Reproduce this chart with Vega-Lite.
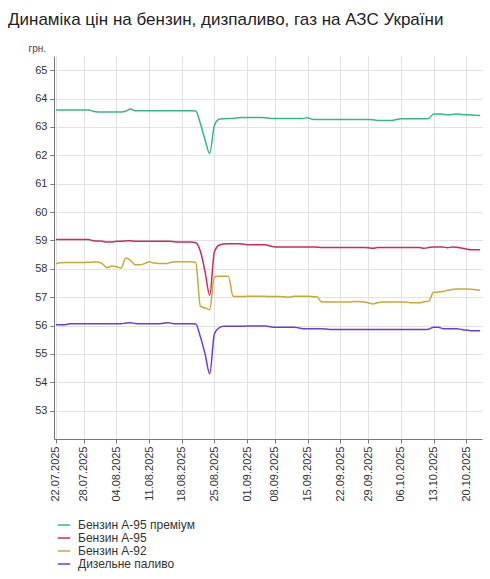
{
  "$schema": "https://vega.github.io/schema/vega-lite/v6.json",
  "width": 428,
  "height": 383,
  "autosize": "none",
  "padding": {"left": 54, "top": 56, "right": 8, "bottom": 140},
  "config": {
    "font": "Liberation Sans",
    "view": {"stroke": null}
  },
  "title": {
    "text": "Динаміка цін на бензин, дизпаливо, газ на АЗС України",
    "anchor": "start",
    "frame": "group",
    "dx": -46,
    "offset": 14,
    "fontSize": 17,
    "fontWeight": "normal",
    "color": "#222"
  },
  "data": {
    "values": [
      {"d": "22.07.2025", "p": 63.6, "a95": 59.03, "a92": 58.18, "dz": 56.03},
      {"d": "23.07.2025", "p": 63.6, "a95": 59.03, "a92": 58.21, "dz": 56.03},
      {"d": "24.07.2025", "p": 63.6, "a95": 59.03, "a92": 58.22, "dz": 56.03},
      {"d": "25.07.2025", "p": 63.6, "a95": 59.03, "a92": 58.22, "dz": 56.06},
      {"d": "26.07.2025", "p": 63.6, "a95": 59.03, "a92": 58.22, "dz": 56.06},
      {"d": "27.07.2025", "p": 63.6, "a95": 59.03, "a92": 58.22, "dz": 56.06},
      {"d": "28.07.2025", "p": 63.6, "a95": 59.03, "a92": 58.22, "dz": 56.06},
      {"d": "29.07.2025", "p": 63.6, "a95": 59.03, "a92": 58.23, "dz": 56.06},
      {"d": "30.07.2025", "p": 63.55, "a95": 58.99, "a92": 58.24, "dz": 56.06},
      {"d": "31.07.2025", "p": 63.53, "a95": 58.98, "a92": 58.24, "dz": 56.06},
      {"d": "01.08.2025", "p": 63.53, "a95": 58.97, "a92": 58.17, "dz": 56.06},
      {"d": "02.08.2025", "p": 63.53, "a95": 58.94, "a92": 58.04, "dz": 56.06},
      {"d": "03.08.2025", "p": 63.53, "a95": 58.94, "a92": 58.1, "dz": 56.06},
      {"d": "04.08.2025", "p": 63.53, "a95": 58.97, "a92": 58.07, "dz": 56.06},
      {"d": "05.08.2025", "p": 63.53, "a95": 58.97, "a92": 58.03, "dz": 56.06},
      {"d": "06.08.2025", "p": 63.55, "a95": 58.98, "a92": 58.38, "dz": 56.09},
      {"d": "07.08.2025", "p": 63.63, "a95": 58.99, "a92": 58.3, "dz": 56.1},
      {"d": "08.08.2025", "p": 63.57, "a95": 58.97, "a92": 58.14, "dz": 56.07},
      {"d": "09.08.2025", "p": 63.57, "a95": 58.97, "a92": 58.14, "dz": 56.06},
      {"d": "10.08.2025", "p": 63.57, "a95": 58.97, "a92": 58.18, "dz": 56.06},
      {"d": "11.08.2025", "p": 63.57, "a95": 58.97, "a92": 58.25, "dz": 56.06},
      {"d": "12.08.2025", "p": 63.57, "a95": 58.97, "a92": 58.2, "dz": 56.06},
      {"d": "13.08.2025", "p": 63.57, "a95": 58.97, "a92": 58.19, "dz": 56.06},
      {"d": "14.08.2025", "p": 63.57, "a95": 58.97, "a92": 58.19, "dz": 56.08},
      {"d": "15.08.2025", "p": 63.57, "a95": 58.97, "a92": 58.19, "dz": 56.1},
      {"d": "16.08.2025", "p": 63.57, "a95": 58.96, "a92": 58.24, "dz": 56.07},
      {"d": "17.08.2025", "p": 63.57, "a95": 58.94, "a92": 58.25, "dz": 56.06},
      {"d": "18.08.2025", "p": 63.57, "a95": 58.94, "a92": 58.25, "dz": 56.06},
      {"d": "19.08.2025", "p": 63.57, "a95": 58.94, "a92": 58.25, "dz": 56.06},
      {"d": "20.08.2025", "p": 63.57, "a95": 58.94, "a92": 58.25, "dz": 56.06},
      {"d": "21.08.2025", "p": 63.56, "a95": 58.92, "a92": 58.22, "dz": 56.05},
      {"d": "22.08.2025", "p": 63.12, "a95": 58.62, "a92": 56.68, "dz": 55.6},
      {"d": "23.08.2025", "p": 62.55, "a95": 57.9, "a92": 56.62, "dz": 55.0},
      {"d": "24.08.2025", "p": 62.06, "a95": 57.07, "a92": 56.56, "dz": 54.3},
      {"d": "25.08.2025", "p": 63.05, "a95": 58.6, "a92": 57.72, "dz": 55.7},
      {"d": "26.08.2025", "p": 63.27, "a95": 58.83, "a92": 57.74, "dz": 55.92},
      {"d": "27.08.2025", "p": 63.29, "a95": 58.87, "a92": 57.74, "dz": 55.97},
      {"d": "28.08.2025", "p": 63.3, "a95": 58.88, "a92": 57.74, "dz": 55.97},
      {"d": "29.08.2025", "p": 63.3, "a95": 58.88, "a92": 57.03, "dz": 55.97},
      {"d": "30.08.2025", "p": 63.32, "a95": 58.88, "a92": 57.02, "dz": 55.97},
      {"d": "31.08.2025", "p": 63.33, "a95": 58.87, "a92": 57.02, "dz": 55.97},
      {"d": "01.09.2025", "p": 63.33, "a95": 58.85, "a92": 57.03, "dz": 55.98},
      {"d": "02.09.2025", "p": 63.33, "a95": 58.85, "a92": 57.03, "dz": 55.98},
      {"d": "03.09.2025", "p": 63.33, "a95": 58.85, "a92": 57.03, "dz": 55.98},
      {"d": "04.09.2025", "p": 63.33, "a95": 58.85, "a92": 57.03, "dz": 55.98},
      {"d": "05.09.2025", "p": 63.32, "a95": 58.85, "a92": 57.03, "dz": 55.98},
      {"d": "07.09.2025", "p": 63.3, "a95": 58.8, "a92": 57.02, "dz": 55.96},
      {"d": "08.09.2025", "p": 63.3, "a95": 58.77, "a92": 57.02, "dz": 55.94},
      {"d": "09.09.2025", "p": 63.3, "a95": 58.77, "a92": 57.02, "dz": 55.94},
      {"d": "10.09.2025", "p": 63.3, "a95": 58.77, "a92": 57.01, "dz": 55.94},
      {"d": "11.09.2025", "p": 63.3, "a95": 58.77, "a92": 57.0, "dz": 55.94},
      {"d": "12.09.2025", "p": 63.3, "a95": 58.77, "a92": 57.03, "dz": 55.94},
      {"d": "13.09.2025", "p": 63.3, "a95": 58.77, "a92": 57.03, "dz": 55.92},
      {"d": "14.09.2025", "p": 63.3, "a95": 58.77, "a92": 57.03, "dz": 55.89},
      {"d": "15.09.2025", "p": 63.32, "a95": 58.77, "a92": 57.03, "dz": 55.89},
      {"d": "16.09.2025", "p": 63.27, "a95": 58.77, "a92": 57.02, "dz": 55.89},
      {"d": "17.09.2025", "p": 63.26, "a95": 58.76, "a92": 57.01, "dz": 55.89},
      {"d": "18.09.2025", "p": 63.26, "a95": 58.75, "a92": 56.83, "dz": 55.89},
      {"d": "19.09.2025", "p": 63.26, "a95": 58.75, "a92": 56.83, "dz": 55.88},
      {"d": "20.09.2025", "p": 63.26, "a95": 58.75, "a92": 56.83, "dz": 55.86},
      {"d": "21.09.2025", "p": 63.26, "a95": 58.75, "a92": 56.83, "dz": 55.86},
      {"d": "22.09.2025", "p": 63.26, "a95": 58.75, "a92": 56.83, "dz": 55.86},
      {"d": "23.09.2025", "p": 63.26, "a95": 58.75, "a92": 56.83, "dz": 55.86},
      {"d": "24.09.2025", "p": 63.26, "a95": 58.75, "a92": 56.83, "dz": 55.86},
      {"d": "25.09.2025", "p": 63.26, "a95": 58.75, "a92": 56.85, "dz": 55.86},
      {"d": "27.09.2025", "p": 63.26, "a95": 58.75, "a92": 56.84, "dz": 55.86},
      {"d": "28.09.2025", "p": 63.26, "a95": 58.75, "a92": 56.83, "dz": 55.86},
      {"d": "29.09.2025", "p": 63.26, "a95": 58.74, "a92": 56.8, "dz": 55.86},
      {"d": "30.09.2025", "p": 63.25, "a95": 58.72, "a92": 56.76, "dz": 55.86},
      {"d": "01.10.2025", "p": 63.23, "a95": 58.75, "a92": 56.8, "dz": 55.86},
      {"d": "02.10.2025", "p": 63.23, "a95": 58.75, "a92": 56.83, "dz": 55.86},
      {"d": "03.10.2025", "p": 63.23, "a95": 58.75, "a92": 56.83, "dz": 55.86},
      {"d": "04.10.2025", "p": 63.23, "a95": 58.75, "a92": 56.83, "dz": 55.86},
      {"d": "05.10.2025", "p": 63.26, "a95": 58.75, "a92": 56.83, "dz": 55.86},
      {"d": "06.10.2025", "p": 63.29, "a95": 58.75, "a92": 56.83, "dz": 55.86},
      {"d": "07.10.2025", "p": 63.29, "a95": 58.75, "a92": 56.83, "dz": 55.86},
      {"d": "08.10.2025", "p": 63.29, "a95": 58.75, "a92": 56.8, "dz": 55.86},
      {"d": "09.10.2025", "p": 63.29, "a95": 58.75, "a92": 56.8, "dz": 55.86},
      {"d": "10.10.2025", "p": 63.29, "a95": 58.75, "a92": 56.8, "dz": 55.86},
      {"d": "11.10.2025", "p": 63.29, "a95": 58.72, "a92": 56.84, "dz": 55.86},
      {"d": "12.10.2025", "p": 63.3, "a95": 58.75, "a92": 56.86, "dz": 55.87},
      {"d": "13.10.2025", "p": 63.46, "a95": 58.77, "a92": 57.17, "dz": 55.94},
      {"d": "14.10.2025", "p": 63.46, "a95": 58.77, "a92": 57.18, "dz": 55.94},
      {"d": "15.10.2025", "p": 63.45, "a95": 58.77, "a92": 57.2, "dz": 55.89},
      {"d": "16.10.2025", "p": 63.43, "a95": 58.74, "a92": 57.24, "dz": 55.89},
      {"d": "17.10.2025", "p": 63.44, "a95": 58.77, "a92": 57.27, "dz": 55.89},
      {"d": "18.10.2025", "p": 63.46, "a95": 58.76, "a92": 57.29, "dz": 55.89},
      {"d": "19.10.2025", "p": 63.44, "a95": 58.73, "a92": 57.29, "dz": 55.86},
      {"d": "20.10.2025", "p": 63.43, "a95": 58.7, "a92": 57.29, "dz": 55.84},
      {"d": "21.10.2025", "p": 63.42, "a95": 58.67, "a92": 57.28, "dz": 55.82},
      {"d": "22.10.2025", "p": 63.41, "a95": 58.67, "a92": 57.26, "dz": 55.82},
      {"d": "23.10.2025", "p": 63.4, "a95": 58.67, "a92": 57.24, "dz": 55.82}
    ]
  },
  "transform": [
    {"fold": ["p", "a95", "a92", "dz"], "as": ["fuel", "price"]}
  ],
  "mark": {"type": "line", "interpolate": "monotone", "strokeWidth": 1.5},
  "encoding": {
    "x": {
      "field": "d",
      "type": "ordinal",
      "sort": null,
      "scale": {"type": "point", "padding": 0.4},
      "axis": {
        "title": null,
        "values": ["22.07.2025", "28.07.2025", "04.08.2025", "11.08.2025", "18.08.2025", "25.08.2025", "01.09.2025", "08.09.2025", "15.09.2025", "22.09.2025", "29.09.2025", "06.10.2025", "13.10.2025", "20.10.2025"],
        "labelAngle": -90,
        "labelFontSize": 11,
        "labelColor": "#333",
        "labelPadding": 3,
        "tickSize": 4,
        "tickColor": "#777",
        "domainColor": "#777",
        "grid": true,
        "gridColor": "#e2e2e2"
      }
    },
    "y": {
      "field": "price",
      "type": "quantitative",
      "scale": {"domain": [52, 65.5], "nice": false, "zero": false},
      "axis": {
        "title": "грн.",
        "titleAngle": 0,
        "titleX": -26,
        "titleY": -8,
        "titleAlign": "left",
        "titleBaseline": "middle",
        "titleFontSize": 10,
        "titleFontWeight": "normal",
        "titleColor": "#444",
        "values": [53, 54, 55, 56, 57, 58, 59, 60, 61, 62, 63, 64, 65],
        "labelFontSize": 11,
        "labelColor": "#333",
        "labelPadding": 3,
        "tickSize": 4,
        "tickColor": "#777",
        "domainColor": "#777",
        "gridColor": "#e2e2e2"
      }
    },
    "color": {
      "field": "fuel",
      "type": "nominal",
      "scale": {
        "domain": ["p", "a95", "a92", "dz"],
        "range": ["#38b68a", "#cc2a62", "#c9a935", "#6d3bd8"]
      },
      "legend": {
        "title": null,
        "orient": "none",
        "legendX": 3,
        "legendY": 462,
        "symbolType": "stroke",
        "symbolSize": 150,
        "symbolStrokeWidth": 1.5,
        "labelFontSize": 12,
        "labelColor": "#333",
        "labelOffset": 7,
        "rowPadding": 0,
        "labelExpr": "{'p': 'Бензин А-95 преміум', 'a95': 'Бензин А-95', 'a92': 'Бензин А-92', 'dz': 'Дизельне паливо'}[datum.label]"
      }
    }
  }
}
